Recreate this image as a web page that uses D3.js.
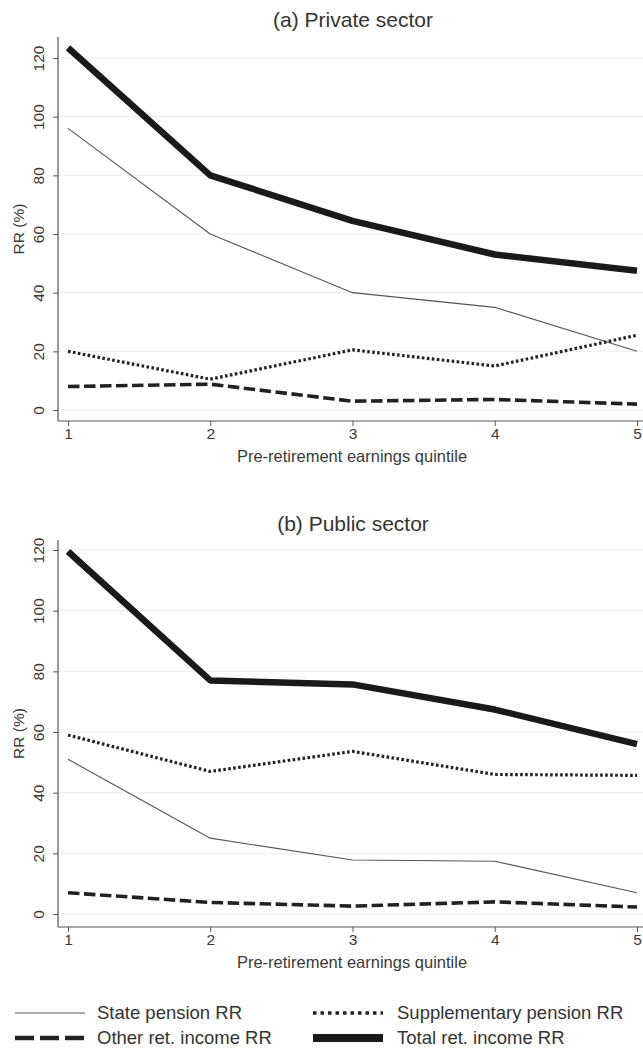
<!DOCTYPE html>
<html>
<head>
<meta charset="utf-8">
<script src="https://cdn.jsdelivr.net/npm/d3@7"></script>
<style>
  html, body { margin: 0; padding: 0; background: #ffffff; }
  svg { display: block; font-family: "Liberation Sans", Arial, sans-serif; }
</style>
</head>
<body>
<svg id="chart" width="643" height="1053"></svg>
<script>
// Replacement rates by pre-retirement earnings quintile
const quintiles = [1, 2, 3, 4, 5];
const yTicks = [0, 20, 40, 60, 80, 100, 120];

// (a) Private sector
const privateState = [96, 60, 40, 35, 20];
const privateSupp  = [20, 10.5, 20.5, 15, 25.5];
const privateOther = [8, 8.8, 3, 3.6, 2];
const privateTotal = [123.5, 80, 64.5, 53, 47.5];

// (b) Public sector
const publicState = [51, 25, 17.8, 17.4, 7];
const publicSupp  = [59, 47, 53.6, 46, 45.7];
const publicOther = [7, 3.8, 2.6, 4, 2.3];
const publicTotal = [119.5, 77, 75.7, 67.4, 56];

const seriesNames = ["State pension RR", "Supplementary pension RR", "Other ret. income RR", "Total ret. income RR"];

const styles = {
  "State pension RR":         { width: 1.1, dash: null,       legendDash: null,      legendWidth: 1.1, color: "#555" },
  "Supplementary pension RR": { width: 3.2, dash: "2.6,2.4",  legendDash: "3.5,4",   legendWidth: 3.6, color: "#222" },
  "Other ret. income RR":     { width: 3.6, dash: "11.5,4.5", legendDash: "19,6",    legendWidth: 4.5, color: "#222" },
  "Total ret. income RR":     { width: 6.5, dash: null,       legendDash: null,      legendWidth: 8,   color: "#1a1a1a" }
};

const panels = [
  { title: "(a) Private sector", top: 37, zeroY: 410, topY: 58, axisY: 421, titleY: 27,
    series: [privateState, privateSupp, privateOther, privateTotal] },
  { title: "(b) Public sector", top: 540, zeroY: 914, topY: 550, axisY: 927, titleY: 531,
    series: [publicState, publicSupp, publicOther, publicTotal] }
];

const svg = d3.select("#chart");
const axisColor = "#555";
const textColor = "#3a3a3a";
const xLeft = 58, xRight = 643;
const x = d3.scaleLinear().domain([1, 5]).range([68, 637]);

panels.forEach(p => {
  const y = d3.scaleLinear().domain([0, 120]).range([p.zeroY, p.topY]);
  const g = svg.append("g");

  // faint gridlines
  g.selectAll("line.grid").data(yTicks).enter().append("line")
    .attr("x1", xLeft + 1).attr("x2", xRight)
    .attr("y1", d => y(d)).attr("y2", d => y(d))
    .attr("stroke", "#ededed").attr("stroke-width", 1);

  // y axis with vertical tick labels
  const yAxis = d3.axisLeft(y).tickValues(yTicks).tickSize(5);
  const ya = g.append("g").attr("transform", `translate(${xLeft},0)`).call(yAxis);
  ya.select(".domain").remove();
  ya.selectAll(".tick line").attr("stroke", axisColor);
  ya.selectAll(".tick text")
    .attr("transform", "rotate(-90)")
    .attr("x", 0).attr("y", -14)
    .attr("dy", 0)
    .attr("text-anchor", "middle")
    .attr("fill", textColor)
    .style("font-size", "15.5px");
  g.append("line").attr("x1", xLeft).attr("x2", xLeft)
    .attr("y1", p.top).attr("y2", p.axisY)
    .attr("stroke", axisColor).attr("stroke-width", 1.2);

  // x axis
  const xAxis = d3.axisBottom(x).tickValues(quintiles).tickSize(5).tickPadding(2).tickFormat(d3.format("d"));
  const xa = g.append("g").attr("transform", `translate(0,${p.axisY})`).call(xAxis);
  xa.select(".domain").remove();
  xa.selectAll(".tick line").attr("stroke", axisColor);
  xa.selectAll(".tick text").attr("fill", textColor).style("font-size", "15.5px");
  g.append("line").attr("x1", xLeft).attr("x2", xRight)
    .attr("y1", p.axisY).attr("y2", p.axisY)
    .attr("stroke", axisColor).attr("stroke-width", 1.2);

  // titles
  g.append("text").attr("x", 353).attr("y", p.titleY)
    .attr("text-anchor", "middle").attr("fill", "#333")
    .style("font-size", "21px").text(p.title);
  g.append("text").attr("x", 352).attr("y", p.axisY + 41)
    .attr("text-anchor", "middle").attr("fill", textColor)
    .style("font-size", "16.5px").text("Pre-retirement earnings quintile");
  g.append("text")
    .attr("transform", `translate(24,${(p.top + p.axisY) / 2}) rotate(-90)`)
    .attr("text-anchor", "middle").attr("fill", textColor)
    .style("font-size", "15.5px").text("RR (%)");

  // series lines
  const line = d3.line().x((d, i) => x(quintiles[i])).y(d => y(d));
  p.series.forEach((vals, k) => {
    const st = styles[seriesNames[k]];
    g.append("path").datum(vals)
      .attr("d", line)
      .attr("fill", "none")
      .attr("stroke", st.color)
      .attr("stroke-width", st.width)
      .attr("stroke-dasharray", st.dash)
      .attr("stroke-linejoin", "round");
  });
});

// legend
const legendItems = [
  { name: "State pension RR",         sx: 15,  tx: 97,  y: 1013 },
  { name: "Supplementary pension RR", sx: 313, tx: 397, y: 1013 },
  { name: "Other ret. income RR",     sx: 15,  tx: 97,  y: 1038 },
  { name: "Total ret. income RR",     sx: 313, tx: 397, y: 1038 }
];
const lg = svg.append("g");
legendItems.forEach(it => {
  const st = styles[it.name];
  lg.append("line")
    .attr("x1", it.sx).attr("x2", it.sx + 70)
    .attr("y1", it.y).attr("y2", it.y)
    .attr("stroke", st.color)
    .attr("stroke-width", st.legendWidth)
    .attr("stroke-dasharray", st.legendDash);
  lg.append("text").attr("x", it.tx).attr("y", it.y + 6)
    .attr("fill", "#333").style("font-size", "18.5px").text(it.name);
});
</script>
</body>
</html>
